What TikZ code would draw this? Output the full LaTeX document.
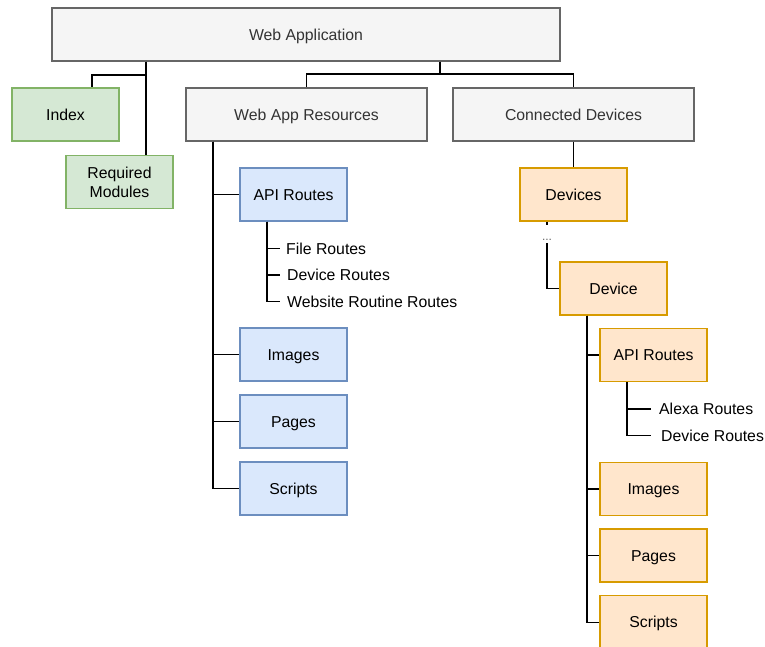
\documentclass[tikz,border=0pt]{standalone}
\usepackage{fontspec}
\setmainfont{Liberation Sans}
\definecolor{grayfill}{HTML}{F5F5F5}
\definecolor{graydraw}{HTML}{666666}
\definecolor{graytext}{HTML}{333333}
\definecolor{greenfill}{HTML}{D5E8D4}
\definecolor{greendraw}{HTML}{82B366}
\definecolor{bluefill}{HTML}{DAE8FC}
\definecolor{bluedraw}{HTML}{6C8EBF}
\definecolor{orangefill}{HTML}{FFE6CC}
\definecolor{orangedraw}{HTML}{D79B00}
\tikzset{
  base/.style={draw, rectangle, inner sep=0pt, line width=1.2pt,
    minimum width=107pt, minimum height=53pt, align=center,
    text height=11.3pt, text depth=0pt,
    font=\fontsize{15.8}{19}\selectfont},
  graybox/.style={base, fill=grayfill, draw=graydraw, text=graytext},
  greenbox/.style={base, fill=greenfill, draw=greendraw, text=black},
  bluebox/.style={base, fill=bluefill, draw=bluedraw, text=black},
  orangebox/.style={base, fill=orangefill, draw=orangedraw, text=black},
  leaf/.style={anchor=west, inner ysep=0pt, text=black,
    text height=11.3pt, text depth=0pt,
    font=\fontsize{15.8}{19}\selectfont},
  link/.style={draw=black, line width=1.2pt},
}
\begin{document}
\begin{tikzpicture}[x=1pt, y=-1pt]
\useasboundingbox (0,0) rectangle (765,647);

% top level
\node[graybox, minimum width=508pt] (webapp) at (306,34.5) {Web Application};
\node[greenbox] (index) at (65.5,114.5) {Index};
\node[greenbox, text height=, text depth=] (reqmod) at (119.5,182) {Required\\Modules};
\node[graybox, minimum width=241pt] (res) at (306.5,114.5) {Web App Resources};
\node[graybox, minimum width=241pt] (con) at (573.5,114.5) {Connected Devices};

% web app resources
\node[bluebox] (apiA) at (293.5,194.5) {API Routes};
\node[bluebox] (imgA) at (293.5,354.5) {Images};
\node[bluebox] (pagA) at (293.5,421.5) {Pages};
\node[bluebox] (scrA) at (293.5,488.5) {Scripts};
\node[leaf, inner xsep=6pt] (frA) at (280,248.5) {File Routes};
\node[leaf, inner xsep=7pt] (drA) at (280,275) {Device Routes};
\node[leaf, inner xsep=7pt] (wrA) at (280,301.5) {Website Routine Routes};

% connected devices
\node[orangebox] (devices) at (573.5,194.5) {Devices};
\node[orangebox] (device) at (613.5,288.5) {Device};
\node[orangebox] (apiB) at (653.5,355) {API Routes};
\node[orangebox] (imgB) at (653.5,489) {Images};
\node[orangebox] (pagB) at (653.5,555.5) {Pages};
\node[orangebox] (scrB) at (653.5,622.3) {Scripts};
\node[leaf, inner xsep=8pt] (arB) at (651,409) {Alexa Routes};
\node[leaf, inner xsep=10pt] (drB) at (651,435.5) {Device Routes};

% connectors from the application box
\draw[link] (webapp.south -| 146,0) -- (146,75) -| (index.north -| 92,0);
\draw[link] (webapp.south -| 146,0) -- (reqmod.north -| 146,0);
\draw[link] (webapp.south -| 440,0) -- (440,74) -| (res.north);
\draw[link] (webapp.south -| 440,0) -- (440,74) -| (con.north);

% resources tree
\draw[link] (res.south -| 213,0) |- (apiA.west);
\draw[link] (res.south -| 213,0) |- (imgA.west);
\draw[link] (res.south -| 213,0) |- (pagA.west);
\draw[link] (res.south -| 213,0) |- (scrA.west);
\draw[link] (apiA.south -| 267,0) |- (frA.west);
\draw[link] (apiA.south -| 267,0) |- (drA.west);
\draw[link] (apiA.south -| 267,0) |- (wrA.west);

% devices tree
\draw[link] (con.south) -- (devices.north);
\draw[link] (devices.south -| 547,0) |- (device.west);
\node[fill=white, inner sep=0pt, minimum width=14pt, minimum height=18pt,
  text height=12pt, text depth=0pt,
  text=graydraw, font=\fontsize{12}{14}\selectfont] (dots) at (547,234) {...};
\draw[link] (device.south -| 587,0) |- (apiB.west);
\draw[link] (device.south -| 587,0) |- (imgB.west);
\draw[link] (device.south -| 587,0) |- (pagB.west);
\draw[link] (device.south -| 587,0) |- (scrB.west);
\draw[link] (apiB.south -| 627,0) |- (arB.west);
\draw[link] (apiB.south -| 627,0) |- (drB.west);
\end{tikzpicture}
\end{document}
